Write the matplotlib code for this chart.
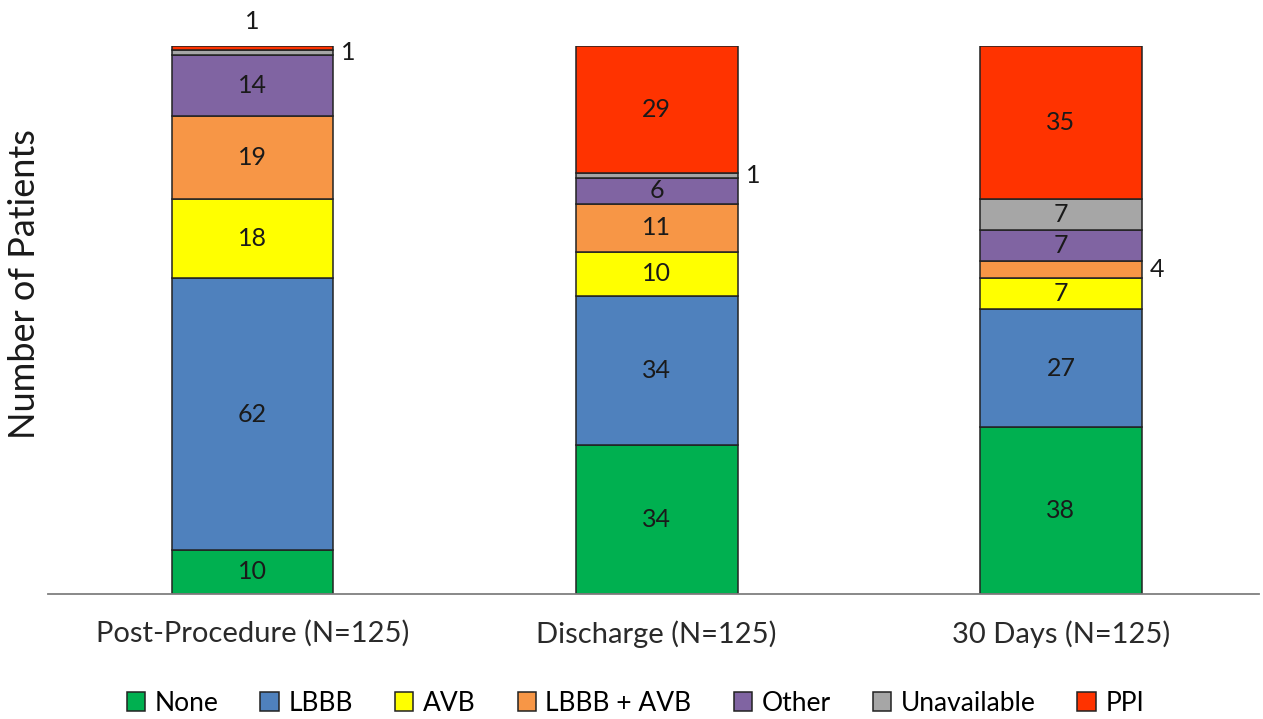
import matplotlib
matplotlib.use("Agg")
import matplotlib.pyplot as plt
import numpy as np

plt.rcParams['font.family'] = ['Lato', 'DejaVu Sans']

categories = ["Post-Procedure (N=125)", "Discharge (N=125)", "30 Days (N=125)"]
series_names = ["None", "LBBB", "AVB", "LBBB + AVB", "Other", "Unavailable", "PPI"]
none_vals = [10, 34, 38]
lbbb_vals = [62, 34, 27]
avb_vals = [18, 10, 7]
lbbb_avb_vals = [19, 11, 4]
other_vals = [14, 6, 7]
unavailable_vals = [1, 1, 7]
ppi_vals = [1, 29, 35]

series = [none_vals, lbbb_vals, avb_vals, lbbb_avb_vals, other_vals,
          unavailable_vals, ppi_vals]
colors = ["#00B050", "#4F81BD", "#FFFF00", "#F79646", "#8064A2", "#A6A6A6", "#FF3300"]
text_color = "#1a1a1a"

fig = plt.figure(figsize=(12.63, 7.19), dpi=100)
ax = fig.add_axes([0.03825, 0.174, 0.9586, 0.762])

x = np.arange(len(categories))
width = 0.4
bottom = np.zeros(len(categories))
for name, vals, col in zip(series_names, series, colors):
    vals = np.array(vals, dtype=float)
    ax.bar(x, vals, width, bottom=bottom, color=col, edgecolor="#222222",
           linewidth=1.1, label=name)
    for i, v in enumerate(vals):
        mid = bottom[i] + v / 2
        if v >= 5:
            ax.text(x[i], mid, f"{int(v)}", ha="center", va="center",
                    fontsize=18, color=text_color)
        elif name == "PPI":
            ax.text(x[i], bottom[i] + v + 5.5, f"{int(v)}", ha="center",
                    va="center", fontsize=18, color=text_color)
        else:
            ax.text(x[i] + width / 2 + 0.02, mid, f"{int(v)}", ha="left",
                    va="center", fontsize=18, color=text_color)
    bottom += vals

ax.set_xlim(-0.505, 2.49)
ax.set_ylim(0, 125)
ax.set_xticks(x)
ax.set_xticklabels(categories, fontsize=21, color="#2a2a2a")
ax.tick_params(axis="x", length=0, pad=19)
ax.set_yticks([])
for s in ["top", "right", "left"]:
    ax.spines[s].set_visible(False)
ax.spines["bottom"].set_color("#7f7f7f")
ax.spines["bottom"].set_linewidth(1.3)
ax.set_ylabel("Number of Patients", fontsize=26, color=text_color)
ax.yaxis.set_label_coords(-0.006, 0.566)

handles, labels = ax.get_legend_handles_labels()
fig.legend(handles, labels, loc="center", bbox_to_anchor=(0.503, 0.022),
           ncol=7, frameon=False, fontsize=19, handlelength=0.7,
           handleheight=0.7, handletextpad=0.35, columnspacing=1.6)

fig.savefig("out.png", dpi=100)
